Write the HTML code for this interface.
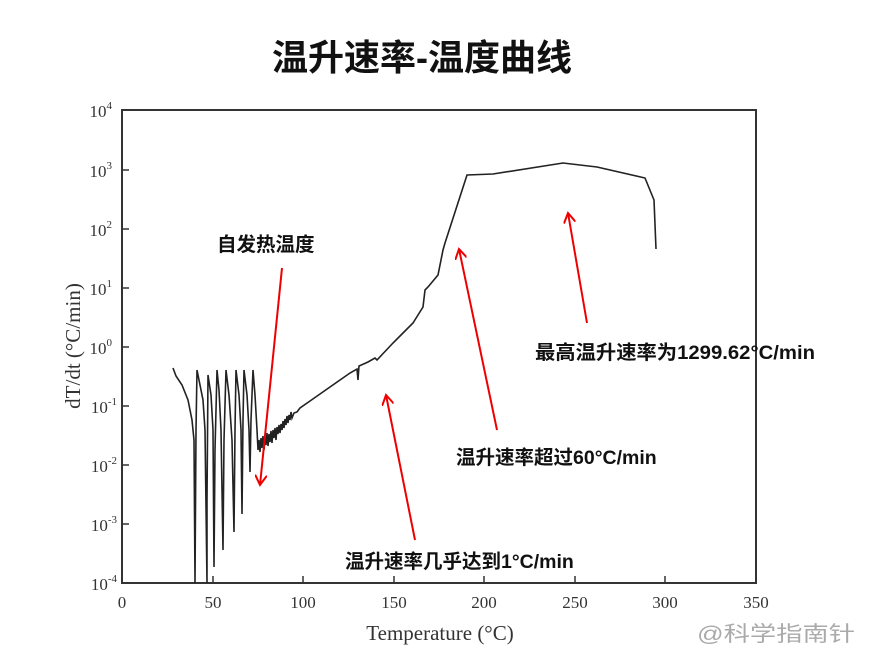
<!DOCTYPE html>
<html><head><meta charset="utf-8"><style>
body{margin:0;background:#fff;}
svg{display:block}
.cn{font-family:"Liberation Sans","Noto Sans CJK SC",sans-serif;}
.sf{font-family:"Liberation Serif",serif;fill:#333}
</style></head><body>
<svg width="872" height="665" xmlns="http://www.w3.org/2000/svg">
<defs><marker id="ah" markerWidth="12" markerHeight="12" refX="10" refY="6" orient="auto" markerUnits="userSpaceOnUse"><path d="M0,0 L10,6 L0,12" fill="none" stroke="#e00" stroke-width="2"/></marker></defs>
<text x="422" y="70" text-anchor="middle" class="cn" font-size="36" font-weight="bold" fill="#111">温升速率-温度曲线</text>
<rect x="122" y="110" width="634" height="473" fill="none" stroke="#333" stroke-width="2"/>
<g stroke="#333" stroke-width="1.5">
<line x1="122" y1="170" x2="129" y2="170"/><line x1="122" y1="229" x2="129" y2="229"/><line x1="122" y1="288" x2="129" y2="288"/><line x1="122" y1="347" x2="129" y2="347"/><line x1="122" y1="406" x2="129" y2="406"/><line x1="122" y1="465" x2="129" y2="465"/><line x1="122" y1="524" x2="129" y2="524"/>
<line x1="213" y1="583" x2="213" y2="576"/><line x1="303" y1="583" x2="303" y2="576"/><line x1="394" y1="583" x2="394" y2="576"/><line x1="484" y1="583" x2="484" y2="576"/><line x1="575" y1="583" x2="575" y2="576"/><line x1="665" y1="583" x2="665" y2="576"/>
</g>
<g class="sf" font-size="17" text-anchor="end">
<text x="112" y="117">10<tspan font-size="11" dy="-8">4</tspan></text>
<text x="112" y="177">10<tspan font-size="11" dy="-8">3</tspan></text>
<text x="112" y="236">10<tspan font-size="11" dy="-8">2</tspan></text>
<text x="112" y="295">10<tspan font-size="11" dy="-8">1</tspan></text>
<text x="112" y="354">10<tspan font-size="11" dy="-8">0</tspan></text>
<text x="117" y="413">10<tspan font-size="11" dy="-8">-1</tspan></text>
<text x="117" y="472">10<tspan font-size="11" dy="-8">-2</tspan></text>
<text x="117" y="531">10<tspan font-size="11" dy="-8">-3</tspan></text>
<text x="117" y="590">10<tspan font-size="11" dy="-8">-4</tspan></text>
</g>
<g class="sf" font-size="17" text-anchor="middle">
<text x="122" y="608">0</text><text x="213" y="608">50</text><text x="303" y="608">100</text><text x="394" y="608">150</text><text x="484" y="608">200</text><text x="575" y="608">250</text><text x="665" y="608">300</text><text x="756" y="608">350</text>
</g>
<text x="440" y="640" text-anchor="middle" class="sf" font-size="21">Temperature (°C)</text>
<text transform="translate(80,346) rotate(-90)" text-anchor="middle" class="sf" font-size="21">dT/dt (°C/min)</text>
<path fill="none" stroke="#222" stroke-width="1.6" d="M173,368 L176,376 L182,385 L188,400 L192,420 L194,440 L195,583 M195,583 L196,430 L197,370 L200,385 L203,400 L205,430 L207,583 L207,500 L208,375 L211,395 L213,430 L214,567 L215,450 L217,370 L219,390 L221,430 L223,550 L224,440 L226,370 L229,395 L232,440 L234,532 L235,430 L236,370 L239,395 L241,430 L242,514 L243,420 L244,370 L247,395 L249,430 L250,472 L251,420 L253,370 L255,395 L257,430 L258,450 L259,440 L260,452 L261,438 L262,448 L263,436 L264,450 L265,437 L266,445 L267,433 L268,446 L269,434 L270,442 L271,431 L272,443 L273,430 L274,438 L275,428 L276,440 L277,427 L278,434 L279,425 L280,433 L281,424 L282,430 L283,421 L284,428 L285,419 L286,425 L287,416 L288,423 L289,415 L290,420 L291,412 L292,418 L294,413 L297,412 L300,408 L310,401 L320,394 L330,387 L340,380 L350,373 L357,369 L358,380 L359,366 L368,362 L375,358 L377,360 L393,343 L403,333 L413,323 L423,307 L425,290 L428,287 L438,275 L443,250 L445,243 L467,175 L493,174 L563,163 L597,167 L645,178 L654,200 L656,249"/>
<g stroke="#e00" stroke-width="2" marker-end="url(#ah)">
<line x1="282" y1="268" x2="260" y2="485"/>
<line x1="415" y1="540" x2="386" y2="395"/>
<line x1="497" y1="430" x2="459" y2="249"/>
<line x1="587" y1="323" x2="568" y2="213"/>
</g>
<g class="cn" font-size="19.5" font-weight="bold" fill="#111">
<text x="217" y="251">自发热温度</text>
<text x="535" y="359" textLength="280" lengthAdjust="spacingAndGlyphs">最高温升速率为1299.62°C/min</text>
<text x="456" y="464">温升速率超过60°C/min</text>
<text x="345" y="568">温升速率几乎达到1°C/min</text>
</g>
<text x="697" y="641" class="cn" font-size="21" fill="#aaa" textLength="158" lengthAdjust="spacingAndGlyphs">@科学指南针</text>
</svg>
</body></html>
